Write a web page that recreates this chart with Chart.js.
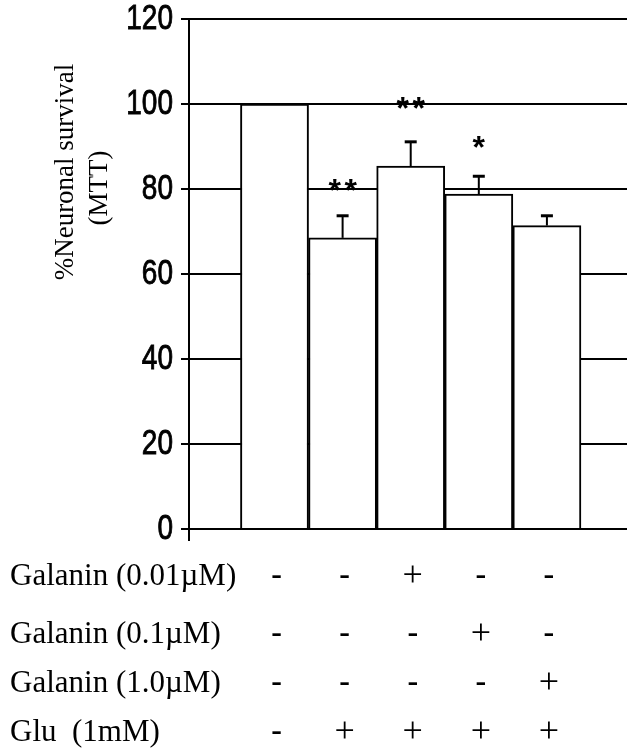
<!DOCTYPE html>
<html>
<head>
<meta charset="utf-8">
<script src="https://cdn.jsdelivr.net/npm/chart.js@4.4.0/dist/chart.umd.min.js"></script>
<style>
  html, body { margin: 0; padding: 0; background: #fff; }
  #wrap { width: 627px; height: 753px; position: relative; }
</style>
</head>
<body>
<div id="wrap"><canvas id="survival"></canvas></div>
<script>
// one bar per treatment group
const groupPos = [1, 2, 3, 4, 5];
const survival = [100, 68.5, 85.4, 78.8, 71.4];
const survivalErr = [0, 5.2, 5.7, 4.2, 2.3];
const starMarks = ['', '**', '**', '*', ''];
const starLevel = [0, 81, 100.3, 91, 0];

// treatment table under the chart
const rowLabels = ['Galanin (0.01\u00b5M)', 'Galanin (0.1\u00b5M)', 'Galanin (1.0\u00b5M)', 'Glu  (1mM)'];
const galanin001 = ['-', '-', '+', '-', '-'];
const galanin01 = ['-', '-', '-', '+', '-'];
const galanin10 = ['-', '-', '-', '-', '+'];
const glu = ['-', '+', '+', '+', '+'];
const tableRows = [galanin001, galanin01, galanin10, glu];

const serif = '"Liberation Serif", "Times New Roman", serif';
const sans = '"Liberation Sans", Arial, sans-serif';

const errorBars = {
  id: 'errorBars',
  afterDatasetsDraw(chart) {
    const {ctx, scales: {x, y}} = chart;
    ctx.save();
    ctx.strokeStyle = '#000';
    survival.forEach((v, i) => {
      if (!survivalErr[i]) return;
      const px = x.getPixelForValue(groupPos[i]);
      const top = y.getPixelForValue(v + survivalErr[i]);
      const base = y.getPixelForValue(v);
      ctx.lineWidth = 2;
      ctx.beginPath();
      ctx.moveTo(px, base);
      ctx.lineTo(px, top);
      ctx.stroke();
      ctx.lineWidth = 3;
      ctx.beginPath();
      ctx.moveTo(px - 6, top);
      ctx.lineTo(px + 6, top);
      ctx.stroke();
    });

    // significance stars
    ctx.fillStyle = '#000';
    ctx.font = 'bold 32px ' + sans;
    ctx.textAlign = 'center';
    ctx.textBaseline = 'alphabetic';
    const m = ctx.measureText('*');
    const mid = (m.actualBoundingBoxAscent - m.actualBoundingBoxDescent) / 2;
    starMarks.forEach((s, i) => {
      if (!s) return;
      const px = x.getPixelForValue(groupPos[i]);
      const py = y.getPixelForValue(starLevel[i]) + mid;
      const n = s.length;
      for (let k = 0; k < n; k++) {
        ctx.fillText('*', px + (k - (n - 1) / 2) * 16, py);
      }
    });
    ctx.restore();
  }
};

// tall, narrow tick numbers like the original figure
const yLabels = {
  id: 'yLabels',
  afterDraw(chart) {
    const {ctx, scales: {y}} = chart;
    ctx.save();
    ctx.fillStyle = '#000';
    ctx.strokeStyle = '#000';
    ctx.lineWidth = 0.7;
    ctx.font = '28px ' + sans;
    ctx.textAlign = 'right';
    ctx.textBaseline = 'middle';
    y.ticks.forEach(t => {
      ctx.save();
      ctx.translate(y.right - 16, y.getPixelForValue(t.value));
      ctx.scale(1, 1.25);
      ctx.fillText(String(t.value), 0, 0);
      ctx.strokeText(String(t.value), 0, 0);
      ctx.restore();
    });
    // axis runs a little below zero
    ctx.lineWidth = 2;
    ctx.beginPath();
    ctx.moveTo(y.right, y.bottom);
    ctx.lineTo(y.right, y.bottom + 12);
    ctx.stroke();
    ctx.restore();
  }
};

const sideText = {
  id: 'sideText',
  afterDraw(chart) {
    const {ctx, scales: {x}} = chart;
    ctx.save();
    ctx.fillStyle = '#000';

    // rotated y title
    ctx.font = '27px ' + serif;
    ctx.textAlign = 'center';
    ctx.textBaseline = 'middle';
    ctx.save();
    ctx.translate(66, 172);
    ctx.rotate(-Math.PI / 2);
    ctx.fillText('%Neuronal survival', 0, 0);
    ctx.restore();
    ctx.save();
    ctx.translate(100, 188);
    ctx.rotate(-Math.PI / 2);
    ctx.fillText('(MTT)', 0, 0);
    ctx.restore();

    // treatment table, one column under each bar
    const rowY = [577, 635, 684, 733];
    rowLabels.forEach((lab, r) => {
      ctx.font = '31px ' + serif;
      ctx.textAlign = 'left';
      ctx.fillText(lab, 10, rowY[r]);
      tableRows[r].forEach((sym, c) => {
        const cx = x.getPixelForValue(groupPos[c]) + 2;
        ctx.textAlign = 'center';
        ctx.font = (sym === '-' ? 'bold 32px ' : '36px ') + serif;
        ctx.fillText(sym, cx, rowY[r] - (sym === '-' ? 1 : 0));
      });
    });
    ctx.restore();
  }
};

new Chart(document.getElementById('survival'), {
  type: 'bar',
  plugins: [errorBars, yLabels, sideText],
  data: {
    datasets: [{
      data: survival.map((v, i) => ({x: groupPos[i], y: v})),
      backgroundColor: '#fff',
      borderColor: '#000',
      borderWidth: 2,
      barPercentage: 1,
      categoryPercentage: 1
    }]
  },
  options: {
    responsive: true,
    maintainAspectRatio: false,
    animation: false,
    layout: { padding: { top: 19, right: 0, bottom: 224, left: 0 } },
    plugins: {
      legend: { display: false },
      tooltip: { enabled: false }
    },
    scales: {
      x: {
        type: 'linear',
        display: false,
        offset: false,
        min: -0.2555,
        max: 6.176
      },
      y: {
        min: 0,
        max: 120,
        afterFit(scale) { scale.width = 189; },
        ticks: {
          stepSize: 20,
          display: false
        },
        grid: {
          color: '#000',
          lineWidth: 2,
          tickLength: 8,
          tickColor: '#000'
        },
        border: { color: '#000', width: 2 }
      }
    }
  }
});
</script>
</body>
</html>
